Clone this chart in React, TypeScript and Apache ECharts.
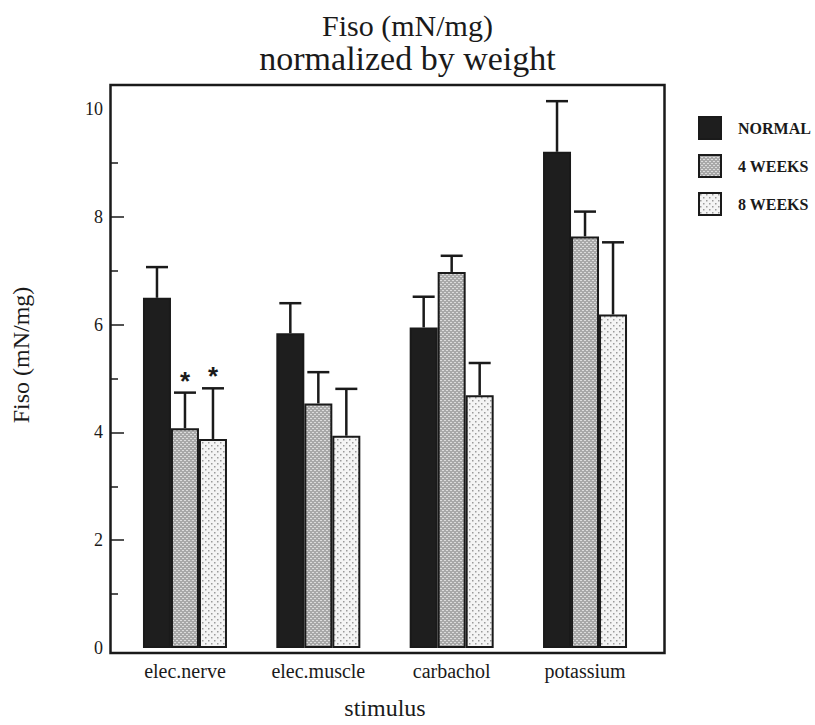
import React, { useEffect, useRef } from "react";
import * as echarts from "echarts";

const categories = ["elec.nerve", "elec.muscle", "carbachol", "potassium"];
const seriesNames = ["NORMAL", "4 WEEKS", "8 WEEKS"];
const normalMean = [6.5, 5.84, 5.95, 9.21];
const normalUpper = [7.07, 6.4, 6.52, 10.15];
const weeks4Mean = [4.08, 4.54, 6.98, 7.64];
const weeks4Upper = [4.74, 5.12, 7.28, 8.1];
const weeks8Mean = [3.88, 3.94, 4.69, 6.19];
const weeks8Upper = [4.82, 4.81, 5.29, 7.53];
const weeks4Star = [true, false, false, false];
const weeks8Star = [true, false, false, false];
const yLabelValues = [0, 2, 4, 6, 8, 10];
const yMajorTicks = [2, 4, 6, 8];
const yMinorTicks = [1, 3, 5, 7, 9];

const SERIF = '"Liberation Serif", "Times New Roman", serif';
const INK = "#1a1a1a";

function makePattern(kind: "dense" | "sparse"): HTMLCanvasElement {
  const c = document.createElement("canvas");
  if (kind === "dense") {
    c.width = 4;
    c.height = 4;
    const g = c.getContext("2d")!;
    g.fillStyle = "#a8a8a8";
    g.fillRect(0, 0, 4, 4);
    g.fillStyle = "#dcdcdc";
    g.fillRect(0, 0, 2, 1);
    g.fillRect(2, 2, 2, 1);
  } else {
    c.width = 6;
    c.height = 6;
    const g = c.getContext("2d")!;
    g.fillStyle = "#f4f4f4";
    g.fillRect(0, 0, 6, 6);
    g.fillStyle = "#9a9a9a";
    g.fillRect(1, 1, 1.5, 1.5);
    g.fillRect(4, 4, 1.5, 1.5);
  }
  return c;
}

export default function App() {
  const ref = useRef<HTMLDivElement>(null);
  useEffect(() => {
    document.body.style.margin = "0";
    const chart = echarts.init(ref.current!, null, { renderer: "svg" });
    const fills: any[] = [
      "#1e1e1e",
      { image: makePattern("dense"), repeat: "repeat" },
      { image: makePattern("sparse"), repeat: "repeat" },
    ];
    const means = [normalMean, weeks4Mean, weeks8Mean];
    const uppers = [normalUpper, weeks4Upper, weeks8Upper];
    const stars = [[false, false, false, false], weeks4Star, weeks8Star];
    const barW = 28;
    const offsets = [-barW, 0, barW];

    const barSeries = seriesNames.map((name, k) => ({
      name,
      type: "bar",
      barWidth: barW,
      barGap: "0%",
      data: means[k],
      itemStyle: { color: fills[k], borderColor: INK, borderWidth: 2 },
      z: 2,
    }));

    const errSeries = seriesNames.map((name, k) => ({
      name: name + " error",
      type: "custom",
      z: 3,
      data: categories.map((_, i) => [i, means[k][i], uppers[k][i], stars[k][i] ? 1 : 0]),
      encode: { x: 0, y: [1, 2] },
      renderItem: (params: any, api: any) => {
        const i = api.value(0);
        const b = api.coord([i, api.value(1)]);
        const t = api.coord([i, api.value(2)]);
        const x = b[0] + offsets[k];
        const children: any[] = [
          {
            type: "line",
            shape: { x1: x, y1: b[1], x2: x, y2: t[1] },
            style: { stroke: INK, lineWidth: 2.5 },
          },
          {
            type: "line",
            shape: { x1: x - 11, y1: t[1], x2: x + 11, y2: t[1] },
            style: { stroke: INK, lineWidth: 2.5 },
          },
        ];
        if (api.value(3) === 1) {
          children.push({
            type: "text",
            x: x,
            y: t[1] - 12,
            style: {
              text: "*",
              font: 'bold 26px "Liberation Sans", Arial, sans-serif',
              fill: INK,
              align: "center",
              verticalAlign: "middle",
            },
          });
        }
        return { type: "group", children };
      },
    }));

    chart.setOption({
      animation: false,
      backgroundColor: "#ffffff",
      title: {
        text: "{a|Fiso (mN/mg)}\n{b|normalized by weight}",
        left: "center",
        top: 5,
        textStyle: {
          fontFamily: SERIF,
          fontWeight: "normal",
          color: INK,
          rich: {
            a: { fontFamily: SERIF, fontSize: 30, lineHeight: 31, color: INK },
            b: { fontFamily: SERIF, fontSize: 34, lineHeight: 34, color: INK },
          },
        },
      },
      legend: {
        data: seriesNames,
        orient: "vertical",
        left: 693,
        top: 111,
        itemWidth: 22,
        itemHeight: 22,
        itemGap: 14,
        icon: "rect",
        itemStyle: { borderColor: INK, borderWidth: 2 },
        textStyle: {
          fontFamily: SERIF,
          fontSize: 16,
          fontWeight: "bold",
          color: INK,
          padding: [0, 0, 0, 12],
        },
      },
      grid: { left: 118.3, right: 163.3, top: 85, bottom: 72 },
      xAxis: {
        type: "category",
        data: categories,
        axisLine: { show: false },
        axisTick: { show: false },
        axisLabel: { fontFamily: SERIF, fontSize: 20, color: INK, margin: 13 },
        name: "stimulus",
        nameLocation: "middle",
        nameGap: 48,
        nameTextStyle: { fontFamily: SERIF, fontSize: 24, color: INK },
      },
      yAxis: [
        {
          type: "value",
          min: 0,
          max: 10.45,
          offset: 7.3,
          axisLine: { show: false },
          splitLine: { show: false },
          axisTick: {
            show: true,
            inside: true,
            length: 13,
            customValues: yMajorTicks,
            lineStyle: { color: INK, width: 1.5 },
          },
          axisLabel: {
            customValues: yLabelValues,
            fontFamily: SERIF,
            fontSize: 18,
            color: INK,
            margin: 8,
          },
        },
        {
          type: "value",
          min: 0,
          max: 10.45,
          offset: 7.3,
          position: "left",
          axisLine: { show: false },
          splitLine: { show: false },
          axisLabel: { show: false },
          axisTick: {
            show: true,
            inside: true,
            length: 7,
            customValues: yMinorTicks,
            lineStyle: { color: INK, width: 1.5 },
          },
        },
      ],
      graphic: [
        {
          type: "rect",
          shape: { x: 110.5, y: 85, width: 554, height: 568 },
          style: { fill: "none", stroke: INK, lineWidth: 2.5 },
          z: 100,
          silent: true,
        },
        {
          type: "text",
          x: 21,
          y: 355,
          rotation: Math.PI / 2,
          style: {
            text: "Fiso (mN/mg)",
            font: '24px "Liberation Serif", serif',
            fill: INK,
            align: "center",
            verticalAlign: "middle",
          },
        },
      ],
      series: [...barSeries, ...errSeries],
    });
    return () => chart.dispose();
  }, []);
  return <div ref={ref} style={{ width: 815, height: 725 }} />;
}
